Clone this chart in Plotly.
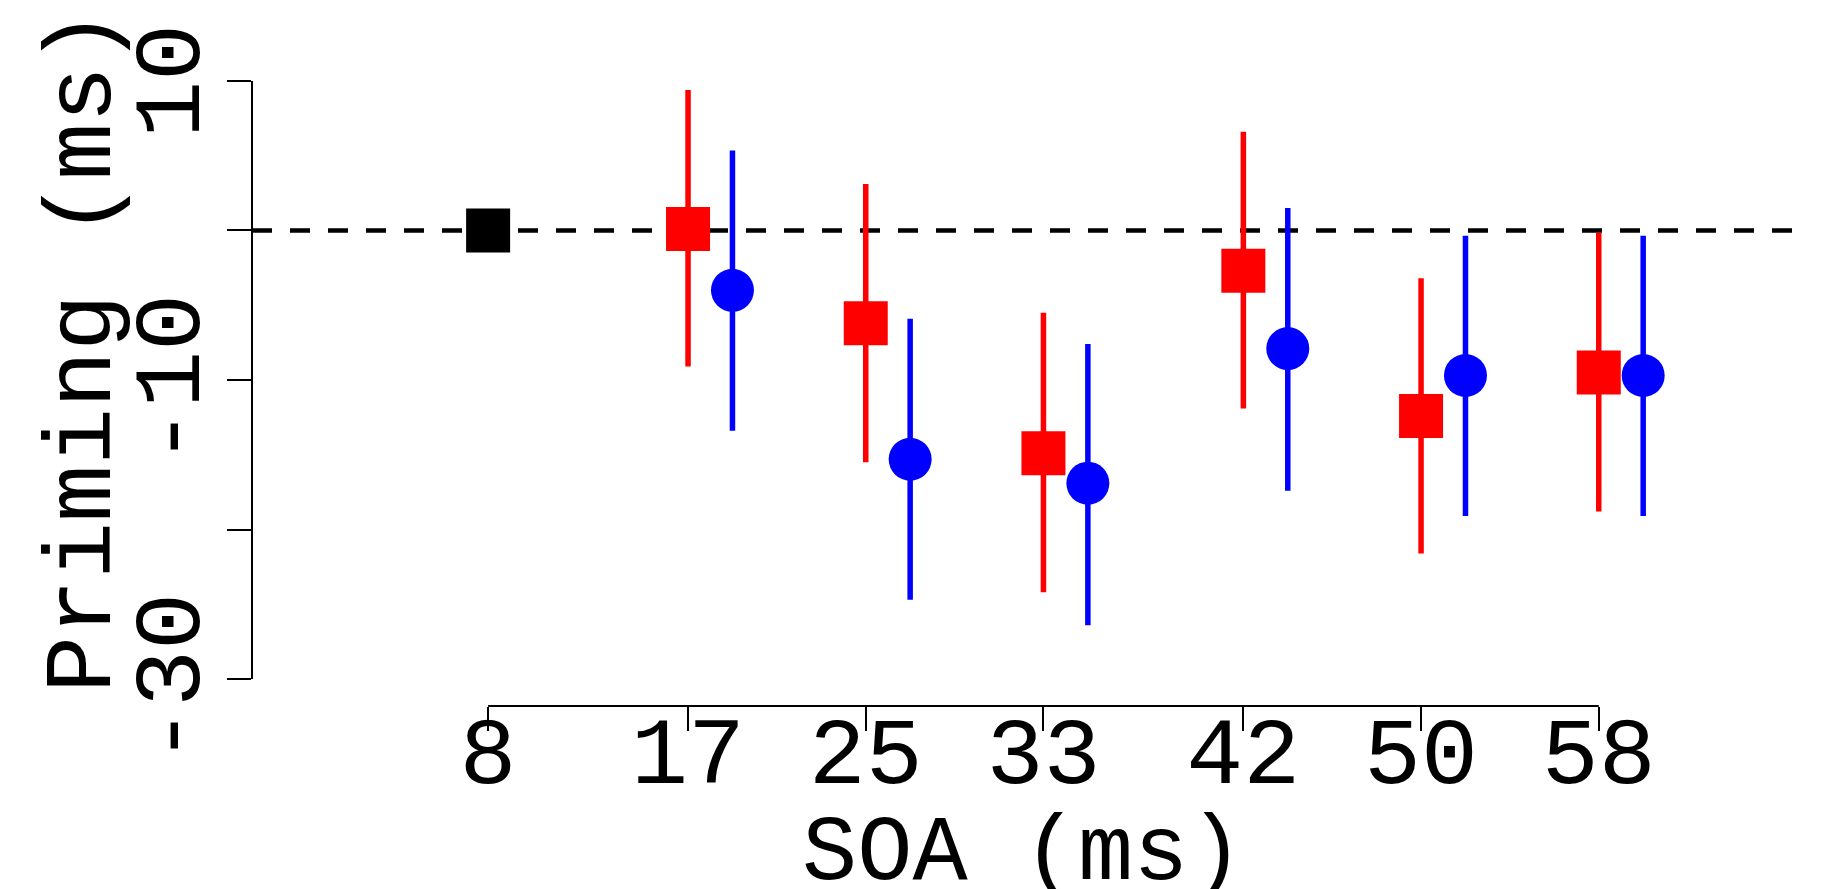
import plotly.graph_objects as go

# ---- data ----
soa = [17, 25, 33, 42, 50, 58]
red_mean = [0.1, -6.2, -14.9, -2.7, -12.4, -9.5]
red_hi = [9.4, 3.1, -5.5, 6.6, -3.2, -0.15]
red_lo = [-9.1, -15.5, -24.2, -11.9, -21.6, -18.8]
blue_mean = [-4.0, -15.3, -16.9, -7.9, -9.7, -9.7]
blue_hi = [5.35, -5.9, -7.6, 1.5, -0.35, -0.35]
blue_lo = [-13.4, -24.7, -26.4, -17.4, -19.1, -19.1]
base_soa = [8]
base_val = [0]

x_ticks = [8, 17, 25, 33, 42, 50, 58]
x_ticktext = ["8", "17", "25", "33", "42", "50", "58"]
y_ticks = [10, 0, -10, -20, -30]
y_ticktext = ["10", "", "-10", "", "-30"]

DODGE = 2  # blue series drawn 2 ms to the right

FONT = "Liberation Mono"
FS_TICK = 95
FS_XTITLE = 92
FS_YTITLE = 95

# figure is placed by the page with an 8px body margin
W, H = 1825, 881
ML, MR, MT, MB = 244, 21, 46, 183
PW = W - ML - MR
PH = H - MT - MB


def px_x(p):  # figure pixel -> paper x
    return (p - ML) / PW


def px_y(p):  # figure pixel -> paper y
    return (H - MB - p) / PH


blue_x = [s + DODGE for s in soa]

fig = go.Figure()

fig.add_trace(go.Scatter(
    x=soa, y=red_mean, mode="markers",
    marker=dict(symbol="square", size=44, color="#ff0000", line=dict(width=0)),
    error_y=dict(type="data", symmetric=False,
                 array=[h - m for h, m in zip(red_hi, red_mean)],
                 arrayminus=[m - l for m, l in zip(red_mean, red_lo)],
                 color="#ff0000", thickness=5.5, width=0),
    showlegend=False, hoverinfo="skip"))

fig.add_trace(go.Scatter(
    x=blue_x, y=blue_mean, mode="markers",
    marker=dict(symbol="circle", size=43, color="#0000ff", line=dict(width=0)),
    error_y=dict(type="data", symmetric=False,
                 array=[h - m for h, m in zip(blue_hi, blue_mean)],
                 arrayminus=[m - l for m, l in zip(blue_mean, blue_lo)],
                 color="#0000ff", thickness=5.5, width=0),
    showlegend=False, hoverinfo="skip"))

fig.add_trace(go.Scatter(
    x=base_soa, y=base_val, mode="markers",
    marker=dict(symbol="square", size=44, color="#000000", line=dict(width=0)),
    showlegend=False, hoverinfo="skip"))

# dashed reference line at zero
fig.add_shape(type="line", xref="paper", x0=0, x1=0.9987, yref="y", y0=0, y1=0,
              line=dict(color="black", width=4.5, dash="20px,18px"), layer="below")
# axis lines spanning only the tick range (R style)
fig.add_shape(type="line", xref="paper", x0=0, x1=0, yref="y",
              y0=min(y_ticks), y1=max(y_ticks), line=dict(color="black", width=2))
fig.add_shape(type="line", yref="paper", y0=0, y1=0, xref="x",
              x0=min(x_ticks), x1=max(x_ticks), line=dict(color="black", width=2))

annotations = []
# rotated y tick labels (R style, parallel to the axis)
for v, t in zip(y_ticks, y_ticktext):
    if t:
        annotations.append(dict(
            text=t, xref="paper", yref="y", x=px_x(166), y=v,
            xanchor="center", yanchor="middle", textangle=-90, showarrow=False,
            font=dict(family=FONT, size=FS_TICK, color="black")))

annotations.append(dict(
    text="SOA (ms)", xref="paper", yref="paper",
    x=px_x(1015), y=px_y(847), xanchor="center", yanchor="middle",
    showarrow=False, font=dict(family=FONT, size=FS_XTITLE, color="black")))
annotations.append(dict(
    text="Priming (ms)", xref="paper", yref="paper",
    x=px_x(77), y=px_y(343), textangle=-90, xanchor="center", yanchor="middle",
    showarrow=False, font=dict(family=FONT, size=FS_YTITLE, color="black")))

fig.update_layout(
    width=W, height=H,
    margin=dict(l=ML, r=MR, t=MT, b=MB, pad=0),
    paper_bgcolor="white", plot_bgcolor="white",
    font=dict(family=FONT, size=FS_TICK, color="black"),
    xaxis=dict(range=[-2.63, 67.6], tickvals=x_ticks, ticktext=x_ticktext,
               ticks="outside", ticklen=24, tickwidth=2, tickcolor="black",
               showline=False, showgrid=False, zeroline=False, automargin=False,
               ticklabelstandoff=-62,
               tickfont=dict(family=FONT, size=FS_TICK, color="black")),
    yaxis=dict(range=[-31.8, 11.8], tickvals=y_ticks, showticklabels=False,
               ticks="outside", ticklen=24, tickwidth=2, tickcolor="black",
               showline=False, showgrid=False, zeroline=False, automargin=False),
    annotations=annotations,
)

fig.write_html("out.html")
